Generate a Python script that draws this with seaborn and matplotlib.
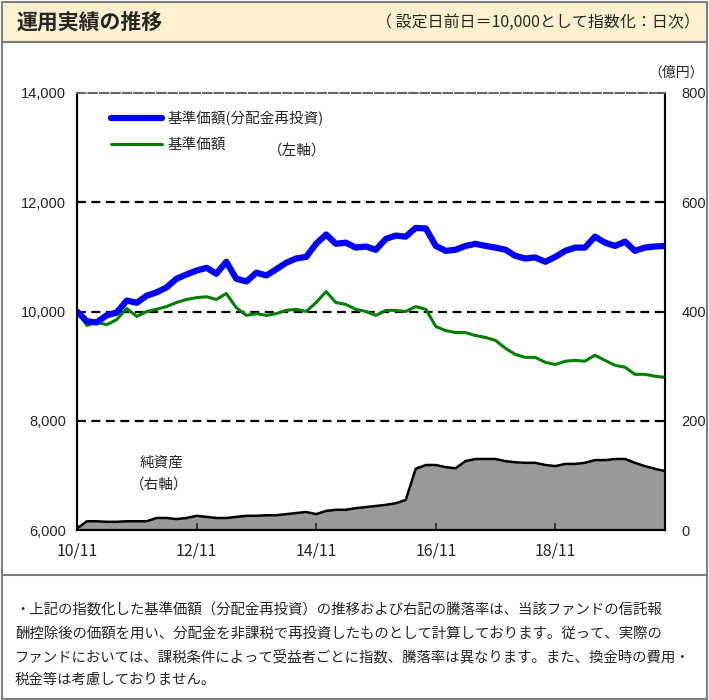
import matplotlib
matplotlib.use("Agg")
import matplotlib.pyplot as plt
import matplotlib.dates as mdates
from matplotlib.patches import Rectangle
from matplotlib.lines import Line2D
import numpy as np
import pandas as pd
import seaborn as sns

sns.set_theme(style="white")
plt.rcParams["font.family"] = ["Noto Sans CJK JP", "DejaVu Sans"]

# bi-monthly readings, 2010/11 .. 2020/09
dates = pd.date_range("2010-11-01", periods=60, freq="2MS")

nav_reinvest = [
    10000, 9820, 9800, 9930, 9980, 10200, 10160, 10290, 10350, 10440,
    10600, 10680, 10750, 10800, 10690, 10910, 10600, 10550, 10710, 10660,
    10770, 10890, 10970, 11000, 11240, 11410, 11240, 11260, 11170, 11190,
    11130, 11330, 11390, 11370, 11530, 11520, 11200, 11110, 11130, 11200,
    11240, 11200, 11170, 11130, 11020, 10970, 10990, 10910, 11000, 11110,
    11170, 11170, 11370, 11260, 11200, 11280, 11110, 11170, 11190, 11200,
]
nav_price = [
    10000, 9745, 9800, 9760, 9850, 10055, 9910, 10000, 10040, 10090,
    10165, 10220, 10255, 10270, 10220, 10330, 10070, 9930, 9960, 9930,
    9960, 10020, 10040, 10000, 10165, 10365, 10165, 10130, 10040, 10000,
    9930, 10020, 10020, 10000, 10090, 10040, 9725, 9650, 9615, 9615,
    9560, 9525, 9470, 9325, 9215, 9160, 9160, 9070, 9030, 9090,
    9105, 9090, 9200, 9105, 9015, 8980, 8850, 8850, 8815, 8795,
]
net_assets = [
    3, 16, 16, 15, 15, 16, 16, 16, 22, 22,
    20, 22, 26, 24, 22, 22, 24, 26, 26, 27,
    27, 29, 31, 33, 29, 35, 37, 37, 40, 42,
    44, 46, 49, 55, 112, 119, 119, 115, 113, 126,
    130, 130, 130, 126, 124, 123, 123, 119, 117, 121,
    121, 123, 128, 128, 130, 130, 123, 117, 112, 108,
]

left_ticks = [6000, 8000, 10000, 12000, 14000]
right_ticks = [0, 200, 400, 600, 800]
x_ticks = pd.to_datetime(["2010-11-01", "2012-11-01", "2014-11-01", "2016-11-01", "2018-11-01"])

df = pd.DataFrame({"date": dates, "reinvest": nav_reinvest, "price": nav_price, "assets": net_assets})

W, H = 709, 700
fig = plt.figure(figsize=(W / 100, H / 100), dpi=100)

# frames
fig.patches.append(Rectangle((2 / W, 1 - 42 / H), 705 / W, 40 / H, transform=fig.transFigure,
                             facecolor="#fdf1d0", edgecolor="#7f7f7f", lw=1.5, zorder=0))
fig.patches.append(Rectangle((2 / W, 1 - 699 / H), 705 / W, 657 / H, transform=fig.transFigure,
                             facecolor="none", edgecolor="#7f7f7f", lw=1.5, zorder=0))
fig.lines.append(Line2D([2 / W, 707 / W], [1 - 575 / H, 1 - 575 / H], transform=fig.transFigure,
                        color="#7f7f7f", lw=1.5))

fig.text(16 / W, 1 - 22 / H, "運用実績の推移", fontsize=15, fontweight="bold", va="center")
fig.text(700 / W, 1 - 22 / H, "（ 設定日前日＝10,000として指数化：日次）", fontsize=11.5,
         va="center", ha="right")

ax = fig.add_axes([77 / W, 1 - 530 / H, 588 / W, 437 / H])
ax2 = ax.twinx()
ax.set_zorder(ax2.get_zorder() + 1)
ax.patch.set_visible(False)

# net assets (right axis)
ax2.fill_between(df["date"], 0, df["assets"], color="#999999", lw=0)
sns.lineplot(data=df, x="date", y="assets", color="black", lw=1.8, ax=ax2)
ax2.set_ylim(0, 800)
ax2.set_yticks(right_ticks)
ax2.set_ylabel("")
ax2.tick_params(axis="y", direction="in", length=4, pad=12, labelsize=10.5, right=True)
for lab in ax2.get_yticklabels():
    lab.set_fontfamily("Liberation Sans")

# index lines (left axis)
sns.lineplot(data=df, x="date", y="price", color="#008000", lw=2.2, ax=ax, label="基準価額")
sns.lineplot(data=df, x="date", y="reinvest", color="#0000ff", lw=4.5, ax=ax,
             label="基準価額(分配金再投資)")
ax.set_ylim(6000, 14000)
ax.set_yticks(left_ticks)
ax.set_yticklabels([f"{v:,}" for v in left_ticks], fontfamily="Liberation Sans")
ax.tick_params(axis="y", direction="in", length=4, pad=8, labelsize=10.5, left=True)
ax.set_xlim(dates[0], dates[-1])
ax.set_xticks(x_ticks)
ax.xaxis.set_major_formatter(mdates.DateFormatter("%y/%m"))
ax.tick_params(axis="x", direction="in", length=5, pad=9, labelsize=11.5, bottom=True)
ax.set_xlabel("")
ax.set_ylabel("")
for y in left_ticks[1:-1]:
    ax.axhline(y, color="black", lw=1.6, ls=(0, (4, 2.5)), zorder=1)

for a in (ax, ax2):
    for s in a.spines.values():
        s.set_color("black")
        s.set_linewidth(1.5)
ax.spines["top"].set_linestyle((0, (4, 1.5)))
ax.spines["top"].set_color("#666666")
ax2.spines["top"].set_visible(False)

h, l = ax.get_legend_handles_labels()
ax.legend(h[::-1], l[::-1], loc="upper left", bbox_to_anchor=(0.035, 0.99), frameon=False,
          fontsize=10.5, handlelength=3.5, handletextpad=0.4, labelspacing=0.85)

ax.text(268 / W, 1 - 152 / H, "（左軸）", transform=fig.transFigure, fontsize=10.5, va="center")
ax.text(140 / W, 1 - 463 / H, "純資産", transform=fig.transFigure, fontsize=10.5, va="center")
ax.text(130 / W, 1 - 485 / H, "（右軸）", transform=fig.transFigure, fontsize=10.5, va="center")
fig.text(704 / W, 1 - 73 / H, "（億円）", fontsize=10, va="center", ha="right")

notes = [
    "・上記の指数化した基準価額（分配金再投資）の推移および右記の騰落率は、当該ファンドの信託報",
    "酬控除後の価額を用い、分配金を非課税で再投資したものとして計算しております。従って、実際の",
    "ファンドにおいては、課税条件によって受益者ごとに指数、騰落率は異なります。また、換金時の費用・",
    "税金等は考慮しておりません。",
]
for i, line in enumerate(notes):
    fig.text(15 / W, 1 - (610 + i * 23.3) / H, line, fontsize=10.4, va="center")

fig.savefig("out.png", dpi=100)
